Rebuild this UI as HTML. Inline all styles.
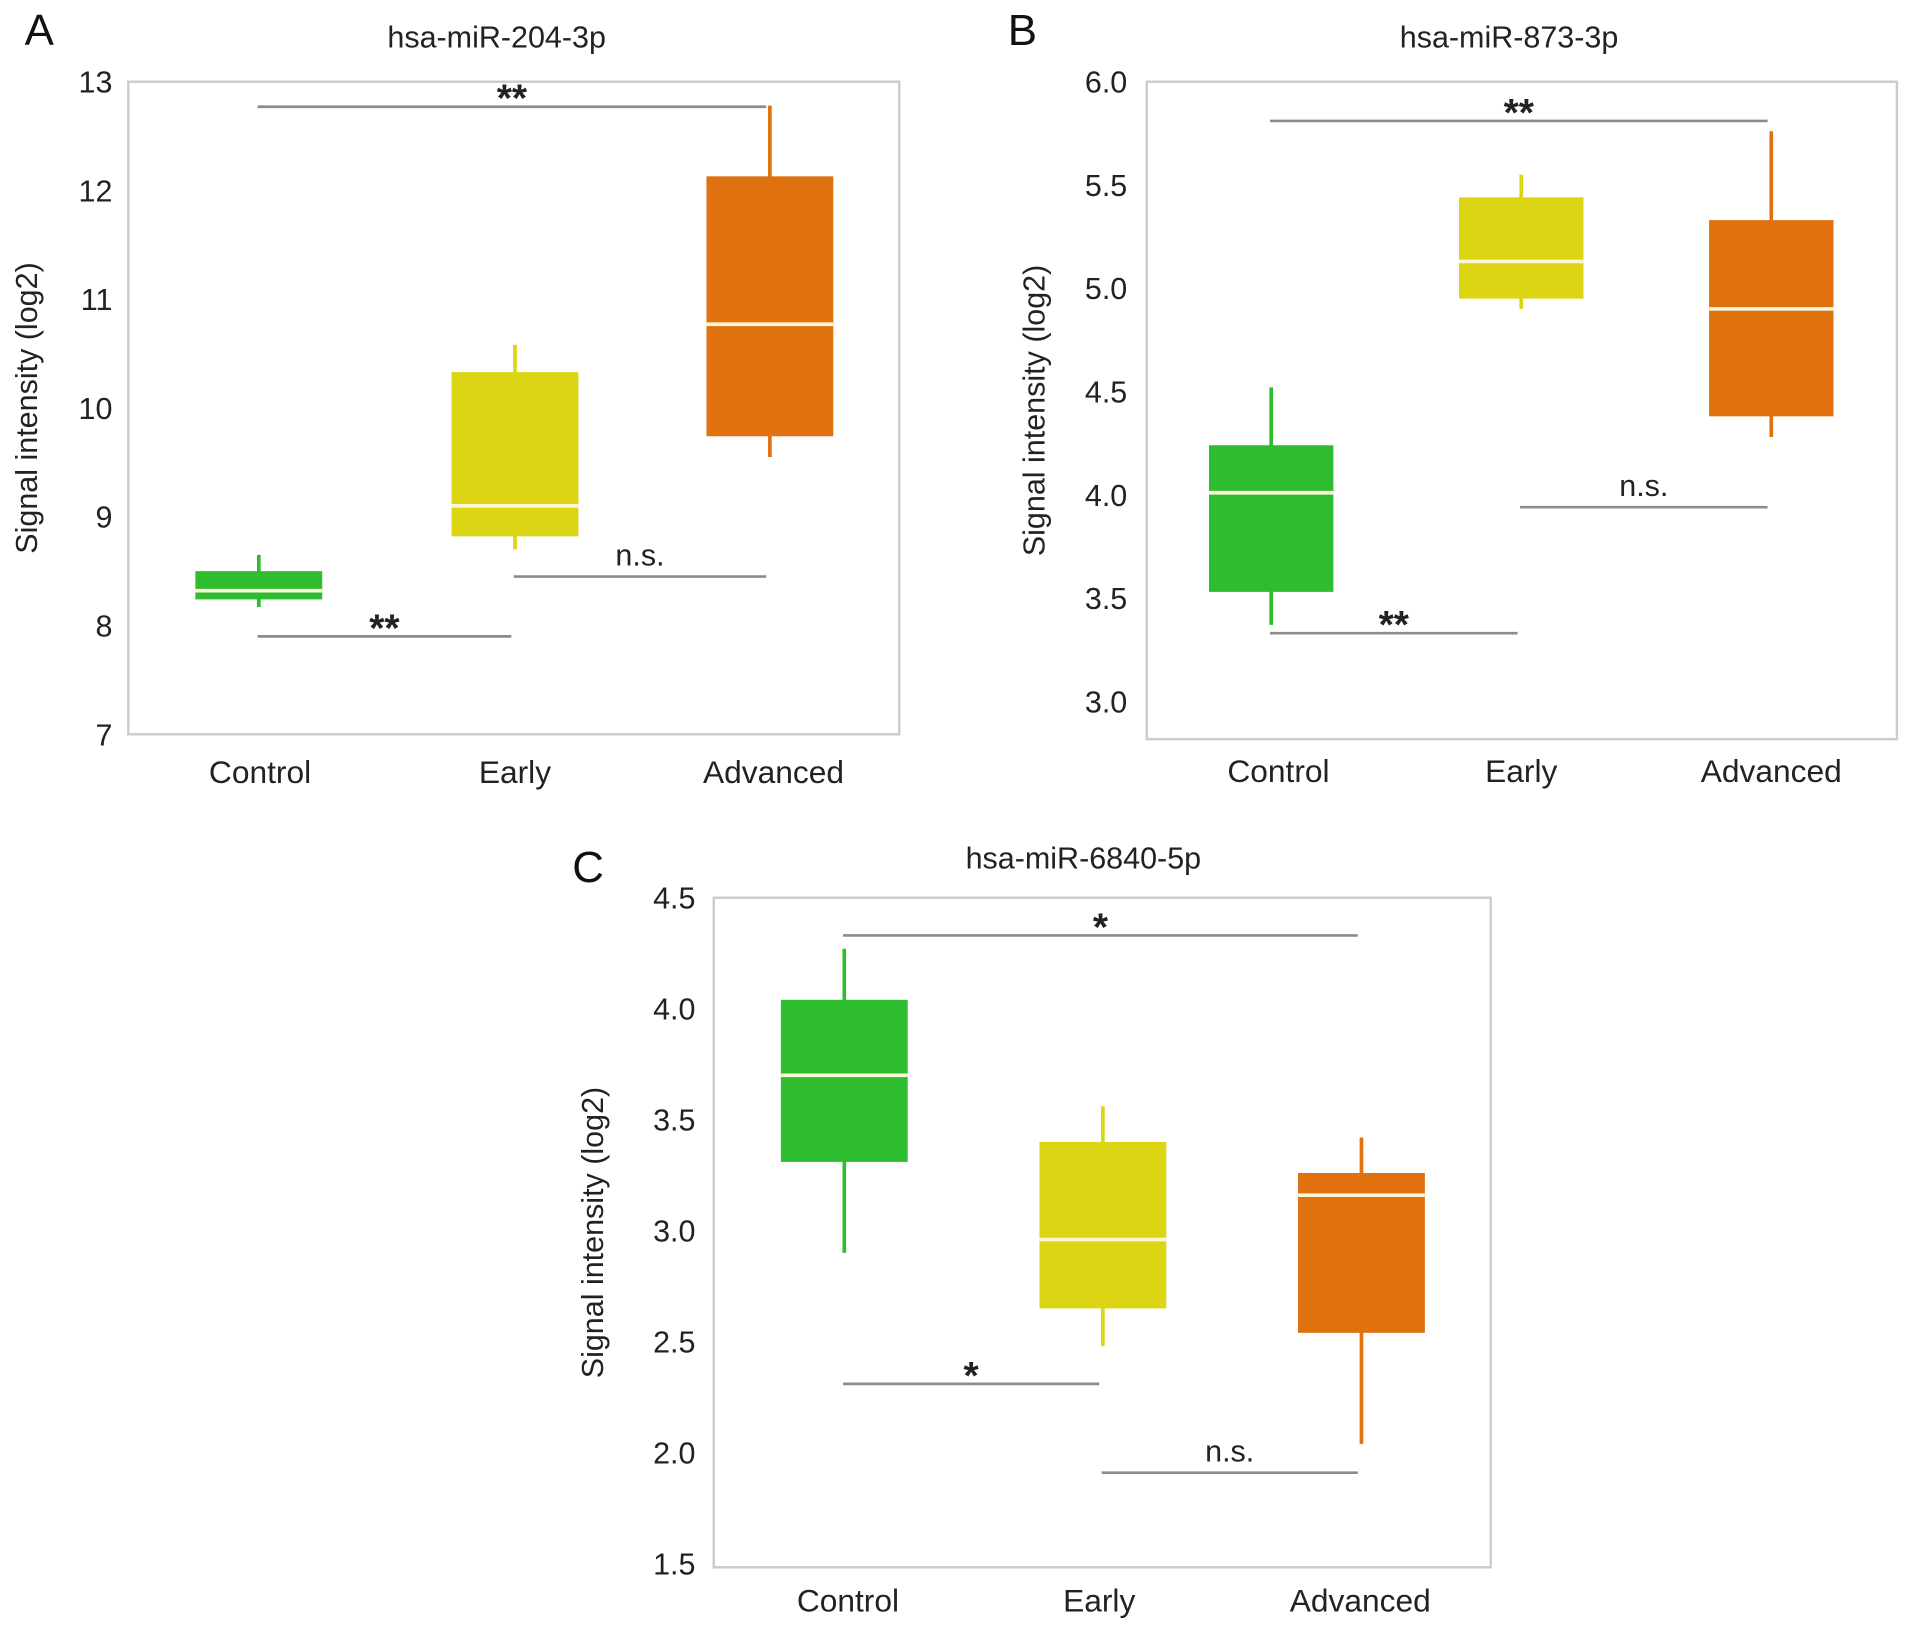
<!DOCTYPE html>
<html><head><meta charset="utf-8"><style>
html,body{margin:0;padding:0;background:#fff;}
svg{display:block;font-family:"Liberation Sans",Arial,sans-serif;}
</style></head><body>
<svg id="fig" width="1913" height="1632" viewBox="0 0 1568 1338"></svg>
<script>
// Data arrays
const categories = ["Control", "Early", "Advanced"];
const colors = ["#2ebd2e", "#dcd513", "#df710e"];
const titles = ["hsa-miR-204-3p", "hsa-miR-873-3p", "hsa-miR-6840-5p"];
const panelLetters = ["A", "B", "C"];
// [whiskerLow, q1, median, q3, whiskerHigh] per category
const seriesA = [[8.17, 8.24, 8.32, 8.5, 8.65], [8.7, 8.82, 9.1, 10.33, 10.58], [9.55, 9.74, 10.77, 12.13, 12.78]];
const seriesB = [[3.37, 3.53, 4.01, 4.24, 4.52], [4.9, 4.95, 5.13, 5.44, 5.55], [4.28, 4.38, 4.9, 5.33, 5.76]];
const seriesC = [[2.9, 3.31, 3.7, 4.04, 4.27], [2.48, 2.65, 2.96, 3.4, 3.56], [2.04, 2.54, 3.16, 3.26, 3.42]];
const ticksA = ["13", "12", "11", "10", "9", "8", "7"];
const ticksB = ["6.0", "5.5", "5.0", "4.5", "4.0", "3.5", "3.0"];
const ticksC = ["4.5", "4.0", "3.5", "3.0", "2.5", "2.0", "1.5"];
// significance brackets: [fromIdx, toIdx, value, label]
const sigA = [[0, 2, 12.77, "**"], [0, 1, 7.9, "**"], [1, 2, 8.45, "n.s."]];
const sigB = [[0, 2, 5.81, "**"], [0, 1, 3.33, "**"], [1, 2, 3.94, "n.s."]];
const sigC = [[0, 2, 4.33, "*"], [0, 1, 2.31, "*"], [1, 2, 1.91, "n.s."]];

const NS = "http://www.w3.org/2000/svg";
const svg = document.getElementById("fig");
function mk(tag, attrs, parent, text) {
  const el = document.createElementNS(NS, tag);
  for (const k in attrs) el.setAttribute(k, attrs[k]);
  if (text !== undefined) el.textContent = text;
  (parent || svg).appendChild(el);
  return el;
}

const panels = [
  {series: seriesA, ticks: ticksA, sig: sigA, frame: [105, 67, 737, 602], yTop: 67, yBot: 602, vTop: 13, vBot: 7,
   centers: [212, 422, 631], bw: 104, tickX: 92, ylabX: 22, xlabY: 642, labelCenters: [213, 422, 634], titlePos: [407, 39], letterPos: [32, 37]},
  {series: seriesB, ticks: ticksB, sig: sigB, frame: [940, 67, 1555, 606], yTop: 67, yBot: 575, vTop: 6.0, vBot: 3.0,
   centers: [1042, 1247, 1452], bw: 102, tickX: 924, ylabX: 848, xlabY: 641, labelCenters: [1048, 1247, 1452], titlePos: [1237, 39], letterPos: [838, 37]},
  {series: seriesC, ticks: ticksC, sig: sigC, frame: [585, 736, 1222, 1285], yTop: 736, yBot: 1282, vTop: 4.5, vBot: 1.5,
   centers: [692, 904, 1116], bw: 104, tickX: 570, ylabX: 486, xlabY: 1321, labelCenters: [695, 901, 1115], titlePos: [888, 712], letterPos: [482, 723]}
];

panels.forEach((p, pi) => {
  const g = mk("g", {});
  
  
  const y = v => p.yTop + (p.vTop - v) / (p.vTop - p.vBot) * (p.yBot - p.yTop);
  const [fx1, fy1, fx2, fy2] = p.frame;
  const fr = mk("rect", {x: fx1, y: fy1, width: fx2 - fx1, height: fy2 - fy1, fill: "none", stroke: "#cccccc", "stroke-width": 2}, g);
  
  
  const n = p.ticks.length;
  p.ticks.forEach((t, i) => {
    const v = p.vTop - i * (p.vTop - p.vBot) / (n - 1);
    const tt = mk("text", {x: p.tickX, y: y(v) + 9, "text-anchor": "end", "font-size": 25, fill: "#222"}, g, t);
    
    
  });
  const ymid = (fy1 + fy2) / 2;
  const yl = mk("text", {x: p.ylabX, y: ymid, transform: `rotate(-90 ${p.ylabX} ${ymid})`, "text-anchor": "middle", "dominant-baseline": "central", "font-size": 25, fill: "#222"}, g, "Signal intensity (log2)");
  
  
  const ti = mk("text", {x: p.titlePos[0], y: p.titlePos[1], "text-anchor": "middle", "font-size": 25, fill: "#222"}, g, titles[pi]);
  
  
  const le = mk("text", {x: p.letterPos[0], y: p.letterPos[1], "text-anchor": "middle", "font-size": 36, fill: "#111"}, g, panelLetters[pi]);
  
  
  categories.forEach((c, i) => {
    const xl = mk("text", {x: p.labelCenters[i], y: p.xlabY, "text-anchor": "middle", "font-size": 26, fill: "#222"}, g, c);
    
    
    const s = p.series[i], cx = p.centers[i];
    const wl = mk("line", {x1: cx, x2: cx, y1: y(s[0]), y2: y(s[4]), stroke: colors[i], "stroke-width": 3}, g);
    
    
    const bx = mk("rect", {x: cx - p.bw / 2, y: y(s[3]), width: p.bw, height: y(s[1]) - y(s[3]), fill: colors[i]}, g);
    
    
    const md = mk("line", {x1: cx - p.bw / 2, x2: cx + p.bw / 2, y1: y(s[2]), y2: y(s[2]), stroke: "#fdf5d8", "stroke-width": 3}, g);
    
    
  });
  p.sig.forEach(sg => {
    const x1 = p.centers[sg[0]] - 1, x2 = p.centers[sg[1]] - 3;
    const yy = y(sg[2]);
    const ln = mk("line", {x1: x1, x2: x2, y1: yy, y2: yy, stroke: "#8c8c8c", "stroke-width": 2.2}, g);
    
    
    const isStar = sg[3] !== "n.s.";
    const st = mk("text", {x: (x1 + x2) / 2, y: isStar ? yy + 4 : yy - 9, "text-anchor": "middle", "font-size": isStar ? 32 : 25, "font-weight": isStar ? "bold" : "normal", fill: "#222"}, g, sg[3]);
    
    
  });
});
</script>
</body></html>
